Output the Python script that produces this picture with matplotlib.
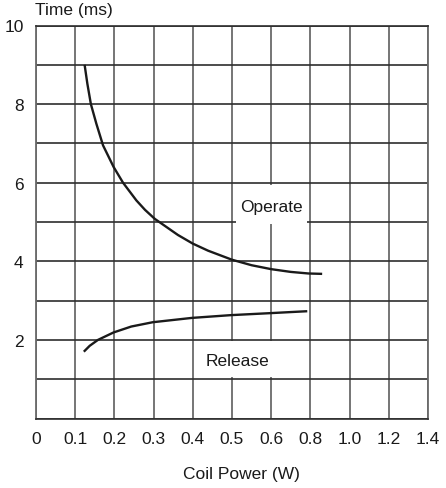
import numpy as np
import matplotlib
matplotlib.use("Agg")
import matplotlib.pyplot as plt
from matplotlib.patches import Rectangle

# ---- data ----
x_tick_values = [0, 0.1, 0.2, 0.3, 0.4, 0.5, 0.6, 0.8, 1.0, 1.2, 1.4]
x_tick_labels = ["0", "0.1", "0.2", "0.3", "0.4", "0.5", "0.6", "0.8", "1.0", "1.2", "1.4"]
y_tick_values = list(range(0, 11))
y_tick_labels = ["", "", "2", "", "4", "", "6", "", "8", "", "10"]

operate_power = [0.124, 0.131, 0.140, 0.154, 0.171, 0.198, 0.222, 0.256, 0.278, 0.303,
                 0.362, 0.400, 0.439, 0.500, 0.550, 0.600, 0.700, 0.790, 0.860]
operate_time = [9.0, 8.52, 8.0, 7.5, 6.95, 6.4, 6.0, 5.55, 5.31, 5.08,
                4.67, 4.45, 4.27, 4.04, 3.90, 3.80, 3.73, 3.69, 3.68]

release_power = [0.122, 0.137, 0.158, 0.198, 0.243, 0.298, 0.398, 0.497, 0.596, 0.784]
release_time = [1.70, 1.85, 2.00, 2.19, 2.34, 2.45, 2.56, 2.63, 2.68, 2.73]

plt.rcParams['font.family'] = ['Liberation Sans', 'DejaVu Sans']
FS = 12.5

positions = np.arange(len(x_tick_values), dtype=float)


def fwd(x):
    return np.interp(x, x_tick_values, positions)


def inv(p):
    return np.interp(p, positions, x_tick_values)


fig = plt.figure(figsize=(4.46, 4.89), dpi=100)
ax = fig.add_axes([36 / 446, 1 - 419.5 / 489, 392 / 446, 393 / 489])
ax.set_xscale('function', functions=(fwd, inv))
ax.set_xlim(0, 1.4)
ax.set_ylim(0, 10)

ax.set_xticks(x_tick_values)
ax.set_xticklabels(x_tick_labels, fontsize=FS)
ax.set_yticks(y_tick_values)
ax.set_yticklabels(y_tick_labels, fontsize=FS)
ax.tick_params(axis='both', length=0, pad=9, colors='#1a1a1a')
ax.xaxis.set_minor_locator(matplotlib.ticker.NullLocator())

ax.set_axisbelow(True)
ax.grid(axis='x', color='#6a6a6a', linewidth=1.3)
ax.grid(axis='y', color='#2e2e2e', linewidth=1.2)
for side in ['left', 'right']:
    ax.spines[side].set_color('#6a6a6a')
    ax.spines[side].set_linewidth(1.3)
for side in ['top', 'bottom']:
    ax.spines[side].set_color('#2e2e2e')
    ax.spines[side].set_linewidth(1.2)

# white label boxes
ax.add_patch(Rectangle((0.51, 4.95), 0.782 - 0.51, 1.0, facecolor='white',
                       edgecolor='none', zorder=1.5))
ax.add_patch(Rectangle((0.418, 1.05), 0.624 - 0.418, 0.91, facecolor='white',
                       edgecolor='none', zorder=1.5))

ax.plot(operate_power, operate_time, color='#1a1a1a', linewidth=1.7, zorder=3,
        solid_capstyle='butt', solid_joinstyle='round')
ax.plot(release_power, release_time, color='#1a1a1a', linewidth=1.7, zorder=3,
        solid_capstyle='butt', solid_joinstyle='round')

ax.text(0.602, 5.28, "Operate", ha='center', va='baseline', fontsize=FS,
        color='#1a1a1a', zorder=4)
ax.text(0.515, 1.36, "Release", ha='center', va='baseline', fontsize=FS,
        color='#1a1a1a', zorder=4)

fig.text(35 / 446, 1 - 11 / 489, "Time (ms)", ha='left', va='center', fontsize=FS,
         color='#1a1a1a')
fig.text(241 / 446, 1 - 475 / 489, "Coil Power (W)", ha='center', va='center',
         fontsize=FS, color='#1a1a1a')

fig.savefig("out.png", dpi=100)
